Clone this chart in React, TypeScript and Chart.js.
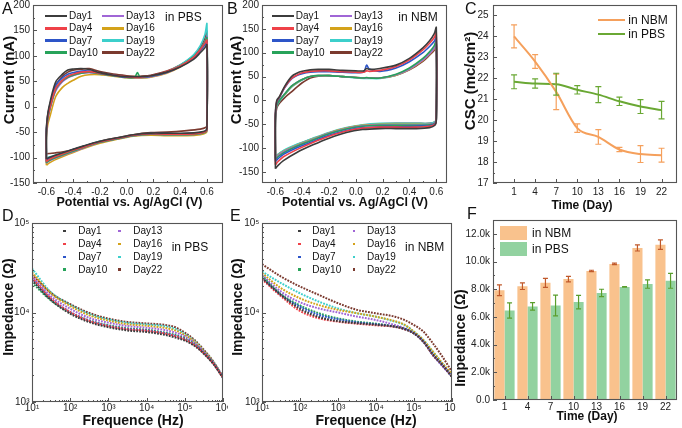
import React, { useEffect, useRef } from 'react';
import { Chart, registerables } from 'chart.js';

Chart.register(...registerables);

const FONT = '"Liberation Sans", Arial, Helvetica, sans-serif';

// ---------------- data ----------------
const dayLabels = ['Day1', 'Day4', 'Day7', 'Day10', 'Day13', 'Day16', 'Day19', 'Day22'];
const dayColors = ['#3c3c3c', '#ef4148', '#2d55c8', '#27a35a', '#a066d6', '#d4a21a', '#3ccfcb', '#7b3a2f'];

// potential (V) along the CV loop: anodic sweep then cathodic sweep
const cvPotential = [
  -0.6, -0.6, -0.59, -0.57, -0.53, -0.48, -0.44, -0.4, -0.34, -0.28, -0.2, -0.1, 0, 0.06, 0.08, 0.1, 0.18, 0.3, 0.4, 0.5, 0.55, 0.585, 0.6,
  0.6, 0.59, 0.55, 0.45, 0.3, 0.18, 0.05, -0.07, -0.2, -0.32, -0.44, -0.54, -0.58, -0.6,
];

// current (nA) in PBS, one row per day
const cvPBS = [
  [-103, -45, -15, 12, 49, 64, 72, 74, 75, 73, 67, 62, 59, 59, 59, 59, 61, 68, 78, 93, 106, 116, 122,
    -42, -47, -50, -52, -52, -52, -55, -61, -68, -77, -87, -96, -100, -103],
  [-108, -52, -22, 2, 36, 52, 60, 64, 68, 69, 66, 62, 59, 58, 58, 58, 61, 69, 80, 97, 112, 125, 131,
    -44, -49, -52, -54, -54, -53, -56, -62, -69, -79, -89, -99, -104, -108],
  [-106, -50, -18, 6, 42, 57, 64, 67, 70, 70, 66, 62, 58, 58, 58, 58, 60, 68, 79, 96, 110, 122, 128,
    -43, -48, -51, -53, -53, -53, -56, -62, -69, -78, -88, -98, -102, -106],
  [-110, -55, -25, 0, 34, 51, 58, 62, 66, 68, 65, 61, 58, 58, 67, 59, 60, 68, 80, 98, 113, 127, 136,
    -45, -50, -53, -55, -55, -54, -57, -63, -70, -80, -91, -101, -106, -110],
  [-111, -56, -26, -2, 31, 49, 57, 61, 66, 67, 65, 61, 58, 57, 57, 57, 59, 67, 79, 97, 113, 128, 138,
    -45, -50, -53, -55, -55, -54, -57, -63, -70, -81, -92, -102, -107, -111],
  [-115, -62, -36, -16, 20, 38, 46, 52, 60, 63, 63, 60, 57, 56, 56, 56, 58, 66, 78, 96, 111, 125, 133,
    -47, -52, -55, -57, -57, -56, -58, -64, -72, -82, -94, -105, -111, -115],
  [-100, -52, -22, 2, 36, 53, 60, 64, 67, 68, 65, 61, 57, 56, 56, 56, 59, 68, 82, 102, 120, 142, 163,
    -44, -49, -52, -54, -54, -53, -56, -62, -68, -78, -88, -96, -99, -100],
  [-93, -45, -16, 8, 42, 60, 68, 72, 74, 75, 69, 64, 61, 60, 60, 60, 62, 70, 82, 100, 116, 134, 148,
    -37, -41, -44, -47, -50, -51, -55, -61, -68, -78, -87, -91, -92, -93],
];

// current (nA) in NBM, one row per day
const cvNBM = [
  [-143, -30, 0, 8, 30, 50, 57, 61, 64, 65, 65, 63, 62, 62, 67, 65, 67, 74, 88, 110, 125, 140, 153,
    -42, -52, -57, -59, -59, -59, -61, -67, -79, -93, -109, -126, -136, -143],
  [-135, -30, -2, 7, 28, 46, 53, 58, 61, 62, 62, 60, 59, 59, 62, 61, 63, 71, 85, 106, 120, 132, 142,
    -42, -50, -54, -56, -56, -56, -58, -64, -75, -88, -103, -118, -128, -135],
  [-128, -30, -4, 6, 27, 45, 52, 56, 59, 60, 60, 59, 58, 60, 74, 66, 61, 68, 81, 100, 113, 124, 132,
    -41, -49, -53, -54, -55, -55, -57, -63, -73, -86, -99, -113, -122, -128],
  [-124, -35, -10, 0, 14, 30, 38, 44, 50, 52, 52, 50, 48, 47, 48, 47, 47, 55, 68, 88, 102, 115, 126,
    -40, -48, -51, -52, -52, -52, -54, -60, -70, -83, -96, -110, -118, -124],
  [-121, -35, -10, 0, 14, 30, 38, 44, 50, 52, 52, 50, 48, 47, 47, 47, 47, 54, 66, 85, 98, 110, 120,
    -40, -47, -50, -51, -51, -51, -53, -59, -69, -82, -95, -108, -116, -121],
  [-120, -35, -10, 0, 13, 29, 37, 44, 50, 52, 52, 50, 48, 47, 47, 47, 47, 53, 65, 84, 97, 108, 118,
    -40, -47, -50, -50, -50, -50, -52, -58, -68, -81, -94, -107, -115, -120],
  [-118, -38, -12, -2, 12, 28, 36, 43, 50, 52, 52, 50, 47, 46, 46, 46, 46, 53, 66, 85, 98, 110, 119,
    -38, -45, -48, -48, -48, -48, -51, -57, -67, -79, -92, -105, -113, -118],
  [-117, -40, -16, -6, 6, 18, 28, 37, 47, 51, 52, 50, 48, 47, 47, 47, 47, 53, 64, 82, 95, 105, 113,
    -38, -45, -48, -48, -48, -49, -52, -58, -68, -80, -93, -106, -113, -117],
];

const cvXTicks = [-0.6, -0.4, -0.2, 0, 0.2, 0.4, 0.6];
const cvYTicks = [-150, -100, -50, 0, 50, 100, 150, 200];

// charge storage capacity
const timeDays = [1, 4, 7, 10, 13, 16, 19, 22];
const cscNBM = [24.0, 22.8, 21.35, 19.62, 19.2, 18.6, 18.38, 18.33];
const cscNBMErr = [0.55, 0.33, 0.85, 0.2, 0.35, 0.1, 0.4, 0.33];
const cscPBS = [21.83, 21.75, 21.72, 21.45, 21.22, 20.9, 20.65, 20.48];
const cscPBSErr = [0.33, 0.22, 0.52, 0.2, 0.38, 0.2, 0.33, 0.42];
const cscYTicks = [17, 18, 19, 20, 21, 22, 23, 24, 25];

// impedance spectra
const impFreq = [10, 31.6, 100, 316, 1000, 3162, 10000, 31623, 56234, 100000, 177828, 316228, 562341, 1000000];
const impPBS = [
  [23000, 13700, 9700, 7800, 6850, 6300, 6050, 5600, 5250, 4850, 4250, 3450, 2650, 1850],
  [24500, 14300, 10100, 8050, 7050, 6500, 6250, 5800, 5450, 5000, 4350, 3500, 2680, 1870],
  [24000, 14200, 10100, 8100, 7100, 6550, 6300, 5850, 5500, 5050, 4380, 3520, 2700, 1880],
  [21500, 13600, 10000, 8150, 7200, 6650, 6400, 5950, 5600, 5150, 4450, 3560, 2720, 1880],
  [25500, 15200, 11000, 8700, 7700, 7050, 6750, 6350, 5950, 5400, 4600, 3640, 2750, 1890],
  [28000, 16300, 11800, 9300, 8100, 7400, 7100, 6700, 6300, 5600, 4750, 3700, 2780, 1900],
  [31000, 16800, 12200, 9600, 8350, 7650, 7350, 7000, 6550, 5750, 4820, 3740, 2790, 1900],
  [26500, 16500, 12400, 9900, 8550, 7850, 7550, 7250, 6850, 5950, 4950, 3820, 2820, 1900],
];
const impNBM = [
  [24200, 15700, 11000, 8900, 8000, 7600, 7300, 6950, 6540, 5840, 4710, 3400, 2580, 1910],
  [23500, 15200, 10400, 8600, 7900, 7500, 7200, 6900, 6500, 5840, 4710, 3340, 2580, 1910],
  [24500, 15700, 11600, 9400, 8400, 7760, 7380, 6950, 6540, 5840, 4710, 3340, 2580, 1910],
  [25500, 16000, 12000, 9800, 8600, 7900, 7500, 6950, 6540, 5840, 4710, 3340, 2580, 1910],
  [26300, 17100, 13000, 11100, 10000, 9000, 8240, 7240, 6700, 5840, 4700, 3340, 2500, 1950],
  [27500, 18700, 14400, 12100, 10700, 9800, 8980, 8000, 7300, 6100, 4900, 3640, 2700, 2050],
  [28700, 21300, 16400, 13200, 11100, 9800, 8980, 7890, 7240, 6100, 4920, 3640, 2690, 1990],
  [34700, 25200, 19500, 15700, 12700, 10700, 9800, 8980, 8240, 7240, 6100, 4510, 3200, 2170],
];
const freqTicks = [10, 100, 1000, 10000, 100000, 1000000];
const impYTicks = [1000, 10000, 100000];

// impedance at 1 kHz
const dayTickLabels = ['1', '4', '7', '10', '13', '16', '19', '22'];
const z1kNBM = [7930, 8220, 8460, 8730, 9320, 9830, 10980, 11220];
const z1kNBMErr = [390, 240, 330, 200, 50, 50, 220, 340];
const z1kPBS = [6460, 6760, 6830, 7070, 7730, 8170, 8370, 8610];
const z1kPBSErr = [550, 270, 750, 490, 270, 20, 300, 540];
const barYTicks = [0, 2000, 4000, 6000, 8000, 10000, 12000];

// ---------------- helpers ----------------
const mids = (arr: number[]) => arr.slice(0, -1).map((v, i) => (v + arr[i + 1]) / 2);
const logMinors = (lo: number, hi: number) => {
  const out: number[] = [];
  for (let d = lo; d < hi; d *= 10) for (let m = 2; m <= 9; m++) out.push(d * m);
  return out;
};
const SUP: Record<string, string> = { '0': '⁰', '1': '¹', '2': '²', '3': '³', '4': '⁴', '5': '⁵', '6': '⁶' };
const powLabel = (v: number) => '10' + SUP[String(Math.round(Math.log10(v)))];

const frameTicks = {
  id: 'frameTicks',
  afterDatasetsDraw(chart: any, _a: any, opts: any) {
    const { ctx, chartArea: a } = chart;
    const xs = chart.scales.x, ys = chart.scales.y;
    ctx.save();
    ctx.strokeStyle = '#555';
    ctx.lineWidth = 1;
    ctx.beginPath();
    const dx = (vals: number[], len: number) => vals.forEach((v) => {
      const p = Math.round(xs.getPixelForValue(v)) + 0.5;
      ctx.moveTo(p, a.bottom); ctx.lineTo(p, a.bottom - len);
    });
    const dy = (vals: number[], len: number) => vals.forEach((v) => {
      const p = Math.round(ys.getPixelForValue(v)) + 0.5;
      ctx.moveTo(a.left, p); ctx.lineTo(a.left + len, p);
    });
    dx(opts.xMajor || [], 4); dx(opts.xMinor || [], 2);
    dy(opts.yMajor || [], 4); dy(opts.yMinor || [], 2);
    ctx.stroke();
    ctx.lineWidth = 1.1;
    ctx.strokeRect(a.left + 0.5, a.top + 0.5, a.right - a.left - 1, a.bottom - a.top - 1);
    ctx.restore();
  },
};

const errorBars = {
  id: 'errorBars',
  afterDatasetsDraw(chart: any) {
    const { ctx } = chart;
    const ys = chart.scales.y;
    chart.data.datasets.forEach((ds: any, i: number) => {
      if (!ds.errors) return;
      const meta = chart.getDatasetMeta(i);
      ctx.save();
      ctx.strokeStyle = ds.errorColor;
      ctx.lineWidth = 1.2;
      ctx.beginPath();
      meta.data.forEach((el: any, j: number) => {
        const raw = ds.data[j];
        const val = typeof raw === 'object' ? raw.y : raw;
        const e = ds.errors[j];
        const y1 = ys.getPixelForValue(val + e), y2 = ys.getPixelForValue(val - e);
        const x = el.x, w = ds.capHalf || 3;
        ctx.moveTo(x, y1); ctx.lineTo(x, y2);
        ctx.moveTo(x - w, y1); ctx.lineTo(x + w, y1);
        ctx.moveTo(x - w, y2); ctx.lineTo(x + w, y2);
      });
      ctx.stroke();
      ctx.restore();
    });
  },
};

type Rect = { x: number; y: number; w: number; h: number };
type Area = { l: number; t: number; r: number; b: number };

const tickFont = { family: FONT, size: 10 };

function axis(kind: 'x' | 'y', size: number, opts: any) {
  const { ticks = {}, ...rest } = opts;
  return {
    ...rest,
    grid: { display: false, drawTicks: false },
    border: { display: false },
    ticks: { font: tickFont, color: '#222', autoSkip: false, maxRotation: 0, ...ticks },
    afterFit: (s: any) => {
      if (kind === 'x') { s.height = size; s.paddingLeft = 0; s.paddingRight = 0; }
      else { s.width = size; s.paddingTop = 0; s.paddingBottom = 0; }
    },
  };
}
const setTicks = (values: number[]) => (s: any) => { s.ticks = values.map((v) => ({ value: v })); };

function makeOptions(c: Rect, a: Area, x: any, y: any, frame: any) {
  return {
    responsive: false,
    animation: false,
    devicePixelRatio: 1,
    layout: { padding: { left: 0, top: a.t - c.y, right: c.x + c.w - a.r, bottom: 0 } },
    plugins: { legend: { display: false }, tooltip: { enabled: false }, frameTicks: frame },
    scales: { x: axis('x', c.y + c.h - a.b, x), y: axis('y', a.l - c.x, y) },
  };
}

function ChartBox({ rect, config }: { rect: Rect; config: () => any }) {
  const ref = useRef<HTMLCanvasElement>(null);
  useEffect(() => {
    const chart = new Chart(ref.current as HTMLCanvasElement, config());
    return () => chart.destroy();
  }, []);
  return (
    <canvas ref={ref} width={rect.w} height={rect.h}
      style={{ position: 'absolute', left: rect.x, top: rect.y, width: rect.w, height: rect.h }} />
  );
}

function Txt({ x, y, size, bold, rotate, align = 'center', children }: any) {
  const tx = align === 'center' ? '-50%' : '0';
  return (
    <div style={{
      position: 'absolute', left: x, top: y, fontFamily: FONT, fontSize: size, fontWeight: bold ? 700 : 400,
      lineHeight: 1, whiteSpace: 'nowrap', color: '#111',
      transform: `translate(${tx}, -50%)${rotate ? ' rotate(-90deg)' : ''}`,
    }}>{children}</div>
  );
}

function DayLegend({ kind, colX, rowY, textOffset }: any) {
  return (
    <>
      {dayLabels.map((lab, k) => {
        const cx = colX[Math.floor(k / 4)], cy = rowY[k % 4];
        return (
          <React.Fragment key={lab}>
            {kind === 'line'
              ? <div style={{ position: 'absolute', left: cx, top: cy - 1.25, width: 22, height: 2.5, background: dayColors[k] }} />
              : <div style={{ position: 'absolute', left: cx - 1.25, top: cy - 1.25, width: 2.5, height: 2.5, background: dayColors[k] }} />}
            <Txt x={cx + textOffset} y={cy} size={10} align="left">{lab}</Txt>
          </React.Fragment>
        );
      })}
    </>
  );
}

// ---------------- panels ----------------
function cvConfig(c: Rect, a: Area, rows: number[][], xMin: number, xMax: number, yMin: number) {
  return () => ({
    type: 'scatter',
    data: {
      datasets: rows.map((ys, k) => ({
        label: dayLabels[k],
        data: cvPotential.map((x, i) => ({ x, y: ys[i] })),
        showLine: true, borderColor: dayColors[k], backgroundColor: dayColors[k],
        borderWidth: 1.6, pointRadius: 0, tension: 0.3,
      })),
    },
    options: makeOptions(c, a,
      { type: 'linear', min: xMin, max: xMax, afterBuildTicks: setTicks(cvXTicks), ticks: { padding: 3, callback: (v: number) => v.toFixed(1) } },
      { type: 'linear', min: yMin, max: 200, afterBuildTicks: setTicks(cvYTicks), ticks: { padding: 3, callback: (v: number) => String(v) } },
      { xMajor: cvXTicks, xMinor: mids(cvXTicks), yMajor: cvYTicks, yMinor: mids(cvYTicks) }),
    plugins: [frameTicks],
  });
}

function impConfig(c: Rect, a: Area, rows: number[][]) {
  return () => ({
    type: 'scatter',
    data: {
      datasets: rows.map((ys, k) => ({
        label: dayLabels[k],
        data: impFreq.map((f, i) => ({ x: f, y: ys[i] })),
        showLine: true, borderColor: dayColors[k], backgroundColor: dayColors[k],
        borderWidth: 2, borderDash: [1.8, 1.2], pointRadius: 0, cubicInterpolationMode: 'monotone',
      })),
    },
    options: makeOptions(c, a,
      { type: 'logarithmic', min: 10, max: 1000000, afterBuildTicks: setTicks(freqTicks), ticks: { padding: 0, callback: (v: number) => powLabel(v) } },
      { type: 'logarithmic', min: 1000, max: 100000, afterBuildTicks: setTicks(impYTicks), ticks: { padding: 2.5, callback: (v: number) => powLabel(v) } },
      { xMajor: freqTicks, xMinor: logMinors(10, 1000000), yMajor: impYTicks, yMinor: logMinors(1000, 100000) }),
    plugins: [frameTicks],
  });
}

const rectA = { x: 0, y: 0, w: 228, h: 214 }, areaA = { l: 33, t: 5, r: 223, b: 183 };
const rectB = { x: 228, y: 0, w: 226, h: 214 }, areaB = { l: 262, t: 5, r: 447, b: 183 };
const rectC = { x: 455, y: 0, w: 227, h: 214 }, areaC = { l: 493, t: 5, r: 677, b: 183 };
const rectD = { x: 0, y: 214, w: 228, h: 214 }, areaD = { l: 32, t: 223, r: 223, b: 402 };
const rectE = { x: 228, y: 214, w: 228, h: 214 }, areaE = { l: 262, t: 223, r: 452, b: 402 };
const rectF = { x: 455, y: 214, w: 227, h: 214 }, areaF = { l: 493, t: 220, r: 677, b: 400 };

const NBM_ORANGE = '#f5a05c';
const PBS_GREEN = '#6aa834';

const configC = () => ({
  type: 'scatter',
  data: {
    datasets: [
      {
        label: 'in NBM', data: timeDays.map((d, i) => ({ x: d, y: cscNBM[i] })),
        showLine: true, borderColor: NBM_ORANGE, backgroundColor: NBM_ORANGE, borderWidth: 2,
        pointRadius: 0, cubicInterpolationMode: 'monotone', errors: cscNBMErr, errorColor: NBM_ORANGE, capHalf: 3,
      },
      {
        label: 'in PBS', data: timeDays.map((d, i) => ({ x: d, y: cscPBS[i] })),
        showLine: true, borderColor: PBS_GREEN, backgroundColor: PBS_GREEN, borderWidth: 2,
        pointRadius: 0, cubicInterpolationMode: 'monotone', errors: cscPBSErr, errorColor: PBS_GREEN, capHalf: 3,
      },
    ],
  },
  options: makeOptions(rectC, areaC,
    { type: 'linear', min: -2, max: 24.2, afterBuildTicks: setTicks(timeDays), ticks: { padding: 3, callback: (v: number) => String(v) } },
    { type: 'linear', min: 17, max: 25.5, afterBuildTicks: setTicks(cscYTicks), ticks: { padding: 4.5, callback: (v: number) => String(v) } },
    { xMajor: timeDays, yMajor: cscYTicks, yMinor: mids(cscYTicks) }),
  plugins: [frameTicks, errorBars],
});

const configF = () => ({
  type: 'bar',
  data: {
    labels: dayTickLabels,
    datasets: [
      {
        label: 'in NBM', data: z1kNBM, backgroundColor: '#f9c28d', borderWidth: 0,
        barPercentage: 1, categoryPercentage: 0.88, errors: z1kNBMErr, errorColor: '#c0582a', capHalf: 2.5,
      },
      {
        label: 'in PBS', data: z1kPBS, backgroundColor: '#92d2a0', borderWidth: 0,
        barPercentage: 1, categoryPercentage: 0.88, errors: z1kPBSErr, errorColor: '#5a9e2c', capHalf: 2.5,
      },
    ],
  },
  options: makeOptions(rectF, areaF,
    { type: 'category', ticks: { padding: 1 } },
    {
      type: 'linear', min: 0, max: 13000, afterBuildTicks: setTicks(barYTicks),
      ticks: { padding: 3, callback: (v: number) => (v === 0 ? '0.0' : (v / 1000).toFixed(1) + 'k') },
    },
    { xMajor: dayTickLabels.map((_, i) => i), yMajor: barYTicks, yMinor: mids(barYTicks) }),
  plugins: [frameTicks, errorBars],
});

export default function App() {
  const rowsTop = [16, 28.3, 40.5, 52.7];
  const rowsBottom = [231, 244, 257, 269.5];
  return (
    <div style={{ position: 'absolute', left: 0, top: 0, width: 682, height: 428, background: '#fff', overflow: 'hidden' }}>
      <ChartBox rect={rectA} config={cvConfig(rectA, areaA, cvPBS, -0.7, 0.72, -150)} />
      <ChartBox rect={rectB} config={cvConfig(rectB, areaB, cvNBM, -0.7, 0.68, -173)} />
      <ChartBox rect={rectC} config={configC} />
      <ChartBox rect={rectD} config={impConfig(rectD, areaD, impPBS)} />
      <ChartBox rect={rectE} config={impConfig(rectE, areaE, impNBM)} />
      <ChartBox rect={rectF} config={configF} />

      {/* panel letters */}
      <Txt x={2} y={9} size={16} align="left">A</Txt>
      <Txt x={227} y={9} size={16} align="left">B</Txt>
      <Txt x={465} y={9} size={16} align="left">C</Txt>
      <Txt x={2} y={216} size={16} align="left">D</Txt>
      <Txt x={230} y={216} size={16} align="left">E</Txt>
      <Txt x={467} y={214} size={16} align="left">F</Txt>

      {/* axis titles */}
      <Txt x={129.5} y={202} size={12.5} bold>Potential vs. Ag/AgCl (V)</Txt>
      <Txt x={7.5} y={80} size={15} bold rotate>Current (nA)</Txt>
      <Txt x={355} y={202} size={12.5} bold>Potential vs. Ag/AgCl (V)</Txt>
      <Txt x={235} y={80} size={15} bold rotate>Current (nA)</Txt>
      <Txt x={582} y={204.5} size={12} bold>Time (Day)</Txt>
      <Txt x={469} y={81} size={15} bold rotate>CSC (mc/cm²)</Txt>
      <Txt x={133} y={420} size={14} bold>Frequence (Hz)</Txt>
      <Txt x={7.5} y={307} size={14} bold rotate>Impedance (Ω)</Txt>
      <Txt x={366} y={420} size={14} bold>Frequence (Hz)</Txt>
      <Txt x={236.5} y={307} size={14} bold rotate>Impedance (Ω)</Txt>
      <Txt x={587} y={416} size={12} bold>Time (Day)</Txt>
      <Txt x={460} y={338} size={14} bold rotate>Impedance (Ω)</Txt>

      {/* legends */}
      <DayLegend kind="line" colX={[45, 102]} rowY={rowsTop} textOffset={24} />
      <Txt x={165} y={17.3} size={12} align="left">in PBS</Txt>
      <DayLegend kind="line" colX={[271.7, 330]} rowY={rowsTop} textOffset={24} />
      <Txt x={398.3} y={17} size={12} align="left">in NBM</Txt>

      <div style={{ position: 'absolute', left: 598, top: 19, width: 27, height: 2, background: NBM_ORANGE }} />
      <Txt x={628.3} y={20} size={12} align="left">in NBM</Txt>
      <div style={{ position: 'absolute', left: 598, top: 33.3, width: 27, height: 2, background: PBS_GREEN }} />
      <Txt x={628.3} y={34.3} size={12} align="left">in PBS</Txt>

      <DayLegend kind="dot" colX={[64.3, 119.3]} rowY={rowsBottom} textOffset={14} />
      <Txt x={171.7} y={246.7} size={12} align="left">in PBS</Txt>
      <DayLegend kind="dot" colX={[299.3, 354]} rowY={rowsBottom} textOffset={13} />
      <Txt x={405} y={246.7} size={12} align="left">in NBM</Txt>

      <div style={{ position: 'absolute', left: 500, top: 225.7, width: 27, height: 14.3, background: '#f9c28d' }} />
      <Txt x={532} y={233} size={12} align="left">in NBM</Txt>
      <div style={{ position: 'absolute', left: 500, top: 242.3, width: 27, height: 13.4, background: '#92d2a0' }} />
      <Txt x={532} y={249} size={12} align="left">in PBS</Txt>
    </div>
  );
}
